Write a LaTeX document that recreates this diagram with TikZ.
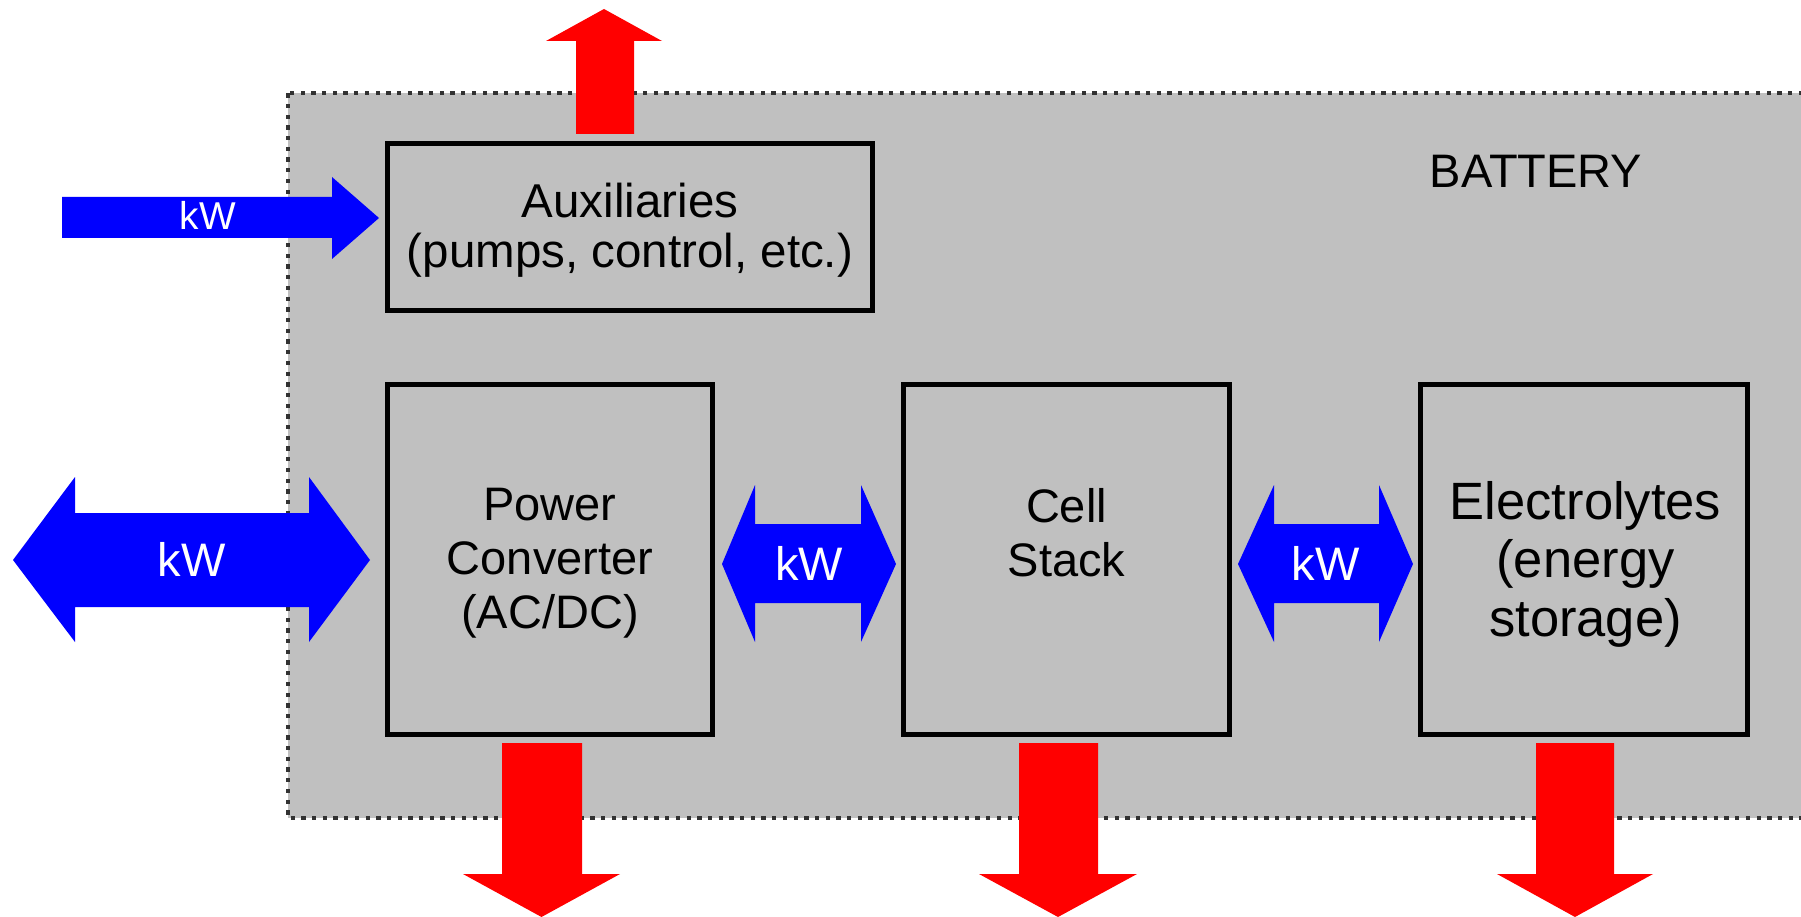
\documentclass[tikz,border=0pt]{standalone}
\usepackage{fontspec}
\setmainfont{Liberation Sans}
\definecolor{batgray}{RGB}{192,192,192}
\definecolor{dashgray}{RGB}{50,50,50}
\definecolor{kwblue}{RGB}{0,0,255}
\definecolor{heatred}{RGB}{255,0,0}
\begin{document}
\begin{tikzpicture}[x=1pt,y=-1pt,
  blockbox/.style={draw=black,line width=4.4pt,inner sep=0pt},
  boxtext/.style={inner sep=0pt,align=center,anchor=north},
  kwtext/.style={text=white,inner sep=0pt,anchor=base},
  bluearrow/.style={fill=kwblue},
  redarrow/.style={fill=heatred}]
\useasboundingbox (0,0) rectangle (1801,917);
\clip (0,0) rectangle (1801,917);
% battery enclosure
\path[fill=batgray,draw=dashgray,line width=4.2pt,dash pattern=on 4.3pt off 6.4pt]
  (287.7,93.3) rectangle (1840,818);
\node[inner sep=0pt,anchor=base,font=\fontsize{47}{50}\selectfont] (battery) at (1536,188) {BATTERY};
% blocks
\node[blockbox,minimum width=485pt,minimum height=167pt] (aux) at (630,227) {};
\node[blockbox,minimum width=325pt,minimum height=350pt] (pcs) at (550,559.5) {};
\node[blockbox,minimum width=326pt,minimum height=350pt] (cell) at (1066.5,559.5) {};
\node[blockbox,minimum width=327pt,minimum height=350pt] (elec) at (1584,559.5) {};
% block texts
\node[boxtext,font=\fontsize{47.5}{50}\selectfont] (auxtxt) at (630,183) {Auxiliaries\\(pumps, control, etc.)};
\node[boxtext,font=\fontsize{47}{54}\selectfont] (pcstxt) at (550,488) {Power\\Converter\\(AC/DC)};
\node[boxtext,font=\fontsize{47}{54}\selectfont] (celltxt) at (1066.5,488) {Cell\\Stack};
\node[boxtext,font=\fontsize{52.5}{58.5}\selectfont] (electxt) at (1585.5,481) {Electrolytes\\(energy\\storage)};
% blue power arrows
\fill[bluearrow] (62,197) -- (332,197) -- (332,177) -- (379,218) -- (332,259) -- (332,238) -- (62,238) -- cycle;
\node[kwtext,font=\fontsize{38.8}{40}\selectfont] (kwaux) at (208,230) {kW};
\fill[bluearrow] (13,560) -- (75,477) -- (75,513) -- (309,513) -- (309,477) -- (370,560)
  -- (309,642) -- (309,607) -- (75,607) -- (75,642) -- cycle;
\node[kwtext,font=\fontsize{47}{50}\selectfont] (kwgrid) at (191.5,576) {kW};
\fill[bluearrow] (722,564) -- (755,485) -- (755,524) -- (861,524) -- (861,485) -- (896,564)
  -- (861,642) -- (861,603) -- (755,603) -- (755,642) -- cycle;
\node[kwtext,font=\fontsize{47}{50}\selectfont] (kwpc) at (809,580) {kW};
\fill[bluearrow] (1238,564) -- (1274,485) -- (1274,524) -- (1379,524) -- (1379,485) -- (1413,564)
  -- (1379,642) -- (1379,603) -- (1274,603) -- (1274,642) -- cycle;
\node[kwtext,font=\fontsize{47}{50}\selectfont] (kwce) at (1325.5,580) {kW};
% red heat arrows
\fill[redarrow] (576,134) -- (576,41) -- (546,41) -- (604,9) -- (662,41) -- (634,41) -- (634,134) -- cycle;
\fill[redarrow] (502,743) -- (582,743) -- (582,874) -- (620,874) -- (541.5,917) -- (463,874) -- (502,874) -- cycle;
\fill[redarrow] (1019,743) -- (1098,743) -- (1098,874) -- (1137,874) -- (1058,917) -- (979,874) -- (1019,874) -- cycle;
\fill[redarrow] (1536,743) -- (1614,743) -- (1614,874) -- (1653,874) -- (1575,917) -- (1497,874) -- (1536,874) -- cycle;
\end{tikzpicture}
\end{document}
